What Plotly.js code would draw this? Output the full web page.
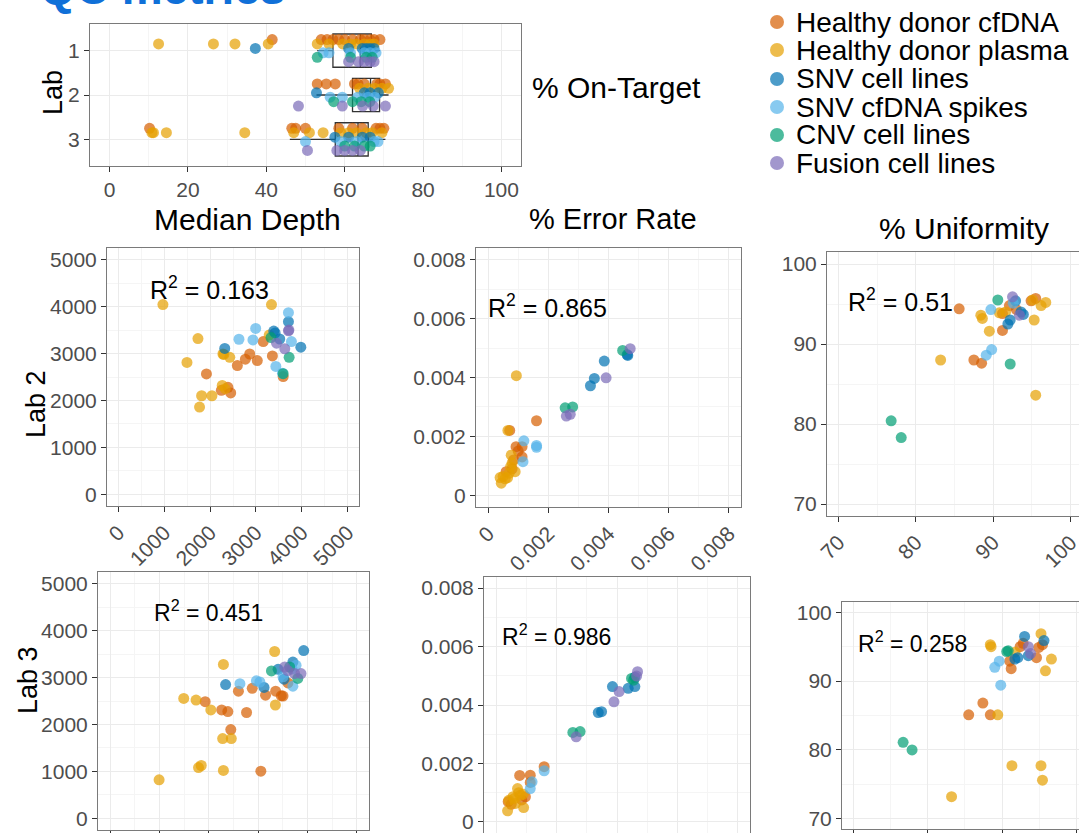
<!DOCTYPE html>
<html><head><meta charset="utf-8">
<script src="https://cdn.plot.ly/plotly-3.0.1.min.js"></script>
<style>html,body{margin:0;padding:0;background:#fff}#chart{width:1079px;height:833px}</style>
</head><body><div id="chart"></div>
<script>
// ---------- categories ----------
const groups = ['Healthy donor cfDNA','Healthy donor plasma','SNV cell lines','SNV cfDNA spikes','CNV cell lines','Fusion cell lines'];
const colors = ['#D55E00','#E69F00','#0072B2','#56B4E9','#009E73','#7B6BB8'];
const labs = [1, 2, 3];

// ---------- % On-Target (per group: [lab1, lab2, lab3]) ----------
const onTarget_cfDNA  = [[41.5,54,55.5,57,58.5,60,62,64,65,66.5,67.5,69],[53,55.3,57.6,62.5,63.4,65,68.2,69,70.4],[10.2,46.5,47.5,50,58.5,62,64.5,68,69,70]];
const onTarget_plasma = [[12.5,26.5,32,40.5,53,56,59.5,61.5,63,65,66.5,67.5],[63.8,66,67.7,69.5,71.2],[10.8,11.2,14.5,34.5,47,51,54.5,59,61,63,65.5,67,69.5]];
const onTarget_snv    = [[37.2,61,64.5,65.5,66.5,67.5],[52.8,65,66.5,68.6],[57.5,61,64.5,66.5]];
const onTarget_spikes = [[54.5,56,61.5,65,66.5,68],[56.3,59.4,63.3,66,67.7],[50,59,63,67.5,68.5]];
const onTarget_cnv    = [[53,61.5,65.5,67],[57.2,62,64.2,66.4],[60,62.5,65,66.5]];
const onTarget_fusion = [[61,63.5,65,66.5,67.5],[48.2,59.4,64.6,67.3,70.4],[50.5,58,60,62,64]];
const boxQ1 = [57, 62, 57.6];
const boxMedian = [64, 66.6, 63.4];
const boxQ3 = [66.8, 68.9, 66];
const boxLow = [53, 52.8, 46];
const boxHigh = [69, 71.2, 70.4];

// ---------- Median Depth ----------
const depthLab2X = [970,3340,1735,1495,2280,2430,2300,1815,2040,1770,2265,2330,3290,1920,2595,2770,2865,3030,3160,3360,3595,2245,2390,2450,3710,3390,3520,3980,2320,3420,3710,2995,2630,2935,3775,3435,3580,3725,3595,3330,3710,3450,3630,3720];
const depthLab2Y = [4045,4045,3320,2810,2990,2920,2980,2100,2100,1860,2320,2250,3395,2565,2745,2880,2990,2850,3255,2950,2510,2215,2280,2160,3680,3480,3310,3135,3110,3440,3870,3535,3305,3290,3255,2725,2580,2920,2570,3340,3485,3220,3100,3500];
const depthLab2G = [1,1,1,1,1,1,1,1,1,1,1,1,1,0,0,0,0,0,0,0,0,0,0,0,2,2,2,2,2,2,3,3,3,3,3,3,3,4,4,4,5,5,5,5];
const depthLab3X = [990,1790,2295,3055,1845,2280,2455,2445,1490,1740,1925,2040,2260,2385,2765,2295,2340,2630,2600,2880,2965,3035,3120,3150,3355,3470,3505,3335,3350,3270,3405,3505,3525,3540,3640,3705,3770,3740,3870,3805,3705,3925,3605,3690,3600];
const depthLab3Y = [820,1080,1020,1005,1125,1700,1700,1890,2555,2520,2485,2310,2310,2275,2255,3280,2850,2870,2710,2770,2930,2905,2790,2625,2710,2610,2605,3555,2415,3140,3175,3015,2965,3225,3225,3330,3260,3085,3085,2980,2815,3575,2885,3180,3150];
const depthLab3G = [1,1,1,0,1,1,1,0,1,1,0,1,0,0,0,1,2,3,0,0,3,3,2,0,0,0,0,1,1,4,2,3,2,5,4,2,3,5,5,4,3,2,0,3,5];

// ---------- % Error Rate ----------
const errLab2X = [0.00094,0.00066,0.00072,0.00161,0.00093,0.00113,0.00113,0.001,0.00085,0.0006,0.0008,0.00077,0.00075,0.0005,0.00044,0.00057,0.0007,0.0008,0.00065,0.0009,0.0004,0.00161,0.00161,0.00119,0.00116,0.00464,0.00462,0.00386,0.00353,0.0034,0.00447,0.00256,0.00281,0.00472,0.00392,0.0026,0.00273];
const errLab2Y = [0.00406,0.0022,0.0022,0.00253,0.00165,0.00165,0.0013,0.0015,0.0012,0.0008,0.0009,0.00136,0.00097,0.00064,0.00041,0.00056,0.00075,0.0011,0.0006,0.0008,0.0006,0.00169,0.00163,0.00185,0.00114,0.00475,0.00478,0.00456,0.00397,0.00372,0.00492,0.00297,0.003,0.00498,0.00399,0.00269,0.00275];
const errLab2G = [1,1,0,0,0,0,0,0,0,0,0,1,1,1,1,1,1,1,1,1,1,3,3,3,3,2,2,2,2,2,4,4,4,5,5,5,5];
const errLab3X = [0.00468,0.00465,0.00448,0.00455,0.00459,0.00459,0.00437,0.00385,0.00407,0.0039,0.00338,0.00349,0.00254,0.00278,0.00265,0.00159,0.00159,0.00078,0.00113,0.00119,0.00113,0.00113,0.00071,0.00056,0.00042,0.00038,0.00091,0.00064,0.0004,0.00097,0.0008,0.00075,0.0005,0.0009,0.0006,0.00085];
const errLab3Y = [0.00514,0.00499,0.00491,0.00485,0.00495,0.00463,0.00457,0.00463,0.00446,0.00411,0.00374,0.00377,0.00306,0.00309,0.00291,0.00175,0.00189,0.00159,0.0016,0.00137,0.00114,0.00135,0.00114,0.00086,0.00074,0.00038,0.00049,0.00063,0.00069,0.00086,0.00091,0.001,0.0006,0.00095,0.0008,0.00075];
const errLab3G = [5,5,4,4,2,2,2,2,5,5,2,2,4,4,5,3,0,0,0,3,3,0,1,1,1,1,1,1,0,0,1,1,0,1,1,0];

// ---------- % Uniformity ----------
const uniLab2X = [85.6,87.5,88.5,91.2,91.2,92.1,94.9,95.5,93,83.2,95.5,88.4,88.6,89.5,91.6,96.2,96.8,95.3,95.1,90.8,92.9,91.9,92.2,93.6,93.9,89.1,89.8,89.7,92.6,76.8,78.1,92.2,90.6,92.5,93.4];
const uniLab2Y = [94.4,88,87.6,93.8,91.7,94.8,95.4,95.7,94.3,88,83.6,93.6,93.2,91.6,94,94.8,95.2,93,95.5,93.9,95.4,92.5,93,94,93.7,88.6,89.3,94.3,95.1,80.4,78.3,87.5,95.5,95.9,93.6];
const uniLab2G = [0,0,0,0,0,0,0,0,0,1,1,1,1,1,1,1,1,1,1,1,2,2,2,2,2,3,3,3,3,4,4,4,4,5,5];
const uniLab3X = [76.7,77.9,83.2,91.3,95.2,95.4,85.5,88.4,89.4,87.4,89.8,89,89.6,88.4,88.5,90.6,90.8,91,91.2,91.7,92.1,91.7,92.4,93,93.5,93.5,94.6,95.2,94.9,95.4,95.6,96.6,95.8,92.8,93.8];
const uniLab3Y = [81.1,80,73.2,77.7,77.7,75.6,85.1,85.1,85.1,86.8,89.4,92,92.9,95.3,95,94.3,94.4,92.9,91.8,93.2,93.4,94.2,95,96.5,95,93.7,93.4,96.9,94.9,95.3,95.9,93.2,91.5,95.5,94];
const uniLab3G = [4,4,1,1,1,1,0,0,1,0,3,3,3,1,1,4,4,0,0,2,2,1,0,2,5,2,0,1,0,0,2,1,1,0,5];

// ---------- layout helpers (pixel -> paper) ----------
const W = 1079, H = 833;
const PX = p => p / W;
const PY = p => 1 - p / H;
const FONT = 'Liberation Sans, Arial, sans-serif';
const dodge = [-0.25, -0.15, -0.05, 0.05, 0.15, 0.25];
const OPAC = 0.7, MSIZE = 11;

const traces = [];
// box plots (top panel)
traces.push({
  type: 'box', orientation: 'h', xaxis: 'x', yaxis: 'y',
  y: labs, q1: boxQ1, median: boxMedian, q3: boxQ3, lowerfence: boxLow, upperfence: boxHigh,
  width: 0.75, whiskerwidth: 0, boxpoints: false,
  fillcolor: 'rgba(0,0,0,0)', line: {color: '#333333', width: 1.3},
  hoverinfo: 'skip', showlegend: false
});
const onTargetAll = [onTarget_cfDNA, onTarget_plasma, onTarget_snv, onTarget_spikes, onTarget_cnv, onTarget_fusion];
onTargetAll.forEach((byLab, g) => {
  const xs = [], ys = [];
  byLab.forEach((vals, li) => vals.forEach(v => { xs.push(v); ys.push(labs[li] + dodge[g]); }));
  traces.push({type: 'scatter', mode: 'markers', xaxis: 'x', yaxis: 'y', x: xs, y: ys,
    marker: {size: MSIZE, color: colors[g], opacity: OPAC, line: {width: 0}}, hoverinfo: 'skip', showlegend: false});
});

function addPanel(X, Y, G, xa, ya) {
  for (let g = 0; g < groups.length; g++) {
    const xs = [], ys = [];
    G.forEach((gg, i) => { if (gg === g) { xs.push(X[i]); ys.push(Y[i]); } });
    traces.push({type: 'scatter', mode: 'markers', xaxis: xa, yaxis: ya, x: xs, y: ys,
      marker: {size: MSIZE, color: colors[g], opacity: OPAC, line: {width: 0}}, hoverinfo: 'skip', showlegend: false});
  }
}
addPanel(depthLab2X, depthLab2Y, depthLab2G, 'x2', 'y2');
addPanel(errLab2X, errLab2Y, errLab2G, 'x3', 'y3');
addPanel(uniLab2X, uniLab2Y, uniLab2G, 'x4', 'y4');
addPanel(depthLab3X, depthLab3Y, depthLab3G, 'x5', 'y5');
addPanel(errLab3X, errLab3Y, errLab3G, 'x6', 'y6');
addPanel(uniLab3X, uniLab3Y, uniLab3G, 'x7', 'y7');

function ax(domain, range, dtick, minor, extra) {
  return Object.assign({
    domain: domain, range: range, dtick: dtick, tick0: 0,
    showline: true, linecolor: '#7a7a7a', linewidth: 1, mirror: true,
    ticks: 'outside', ticklen: 5, tickwidth: 1, tickcolor: '#333333',
    showgrid: true, gridcolor: '#ebebeb', gridwidth: 1, zeroline: false,
    tickfont: {family: FONT, size: 21, color: '#4d4d4d'},
    minor: minor ? {dtick: minor, showgrid: true, gridcolor: '#f5f5f5', gridwidth: 1, ticks: ''} : undefined,
    fixedrange: true
  }, extra || {});
}
const ALLOW = {ticklabeloverflow: 'allow'};

const layout = {
  width: W, height: H, margin: {l: 0, r: 0, t: 0, b: 0},
  paper_bgcolor: '#ffffff', plot_bgcolor: '#ffffff', showlegend: false,
  font: {family: FONT, color: '#000'},
  // top panel
  xaxis:  ax([PX(90), PX(521)], [-5, 105], 20, 10, {anchor: 'y'}),
  yaxis:  ax([PY(166), PY(24)], [3.6, 0.4], 1, null, Object.assign({anchor: 'x', tickvals: labs, ticktext: ['1','2','3']}, ALLOW)),
  // row Lab 2
  xaxis2: ax([PX(107), PX(359)], [-250, 5250], 1000, 500, {anchor: 'y2', tickangle: -45}),
  yaxis2: ax([PY(506), PY(248)], [-250, 5250], 1000, 500, Object.assign({anchor: 'x2'}, ALLOW)),
  xaxis3: ax([PX(476), PX(741)], [-0.0004, 0.0084], 0.002, 0.001, {anchor: 'y3', tickangle: -45}),
  yaxis3: ax([PY(507), PY(248)], [-0.0004, 0.0084], 0.002, 0.001, Object.assign({anchor: 'x3'}, ALLOW)),
  xaxis4: ax([PX(827), 1], [68.5, 101.1], 10, 5, Object.assign({anchor: 'y4', tickangle: -45}, ALLOW)),
  yaxis4: ax([PY(516), PY(252)], [68.5, 101.5], 10, 5, Object.assign({anchor: 'x4', mirror: false}, ALLOW)),
  // row Lab 3
  xaxis5: ax([PX(98), PX(369)], [-250, 5250], 1000, 500, {anchor: 'y5', tickangle: -45}),
  yaxis5: ax([PY(830), PY(572)], [-250, 5250], 1000, 500, Object.assign({anchor: 'x5'}, ALLOW)),
  xaxis6: ax([PX(484), PX(750)], [-0.0004, 0.0084], 0.002, 0.001, {anchor: 'y6', tickangle: -45}),
  yaxis6: ax([0, PY(577)], [-0.00038, 0.00838], 0.002, 0.001, Object.assign({anchor: 'x6'}, ALLOW)),
  xaxis7: ax([PX(842), 1], [68.5, 100.3], 10, 5, {anchor: 'y7', tickangle: -45}),
  yaxis7: ax([PY(829), PY(602)], [68.5, 101.5], 10, 5, Object.assign({anchor: 'x7', mirror: false}, ALLOW)),
  annotations: [],
  shapes: []
};

function note(text, xpx, ypx, size, opts) {
  layout.annotations.push(Object.assign({
    text: text, xref: 'paper', yref: 'paper', x: PX(xpx), y: PY(ypx),
    xanchor: 'center', yanchor: 'middle', showarrow: false,
    font: {family: FONT, size: size, color: '#000'}
  }, opts || {}));
}
// main title (cropped at top)
note('<b>QC metrics</b>', 38, -12, 46, {xanchor: 'left', font: {family: FONT, size: 46, color: '#1070d8'}});
// panel titles
note('% On-Target', 530, 88, 30, {xanchor: 'left'});
note('Median Depth', 247, 219, 30);
note('% Error Rate', 613, 219, 29);
note('% Uniformity', 964, 228, 30);
// row titles
note('Lab', 53, 93, 27, {textangle: -90});
note('Lab 2', 36, 404, 27, {textangle: -90});
note('Lab 3', 28, 680, 27, {textangle: -90});
// R^2 labels
note('R<sup>2</sup> = 0.163', 209, 288, 25);
note('R<sup>2</sup> = 0.865', 547, 306, 25);
note('R<sup>2</sup> = 0.51', 900, 300, 25);
note('R<sup>2</sup> = 0.451', 208, 611, 23);
note('R<sup>2</sup> = 0.986', 556, 635, 23);
note('R<sup>2</sup> = 0.258', 912, 642, 23);

// legend (manual)
const legendRows = [22, 50, 79, 107, 135, 163];
groups.forEach((name, g) => {
  layout.shapes.push({type: 'circle', xref: 'paper', yref: 'paper',
    xsizemode: 'pixel', ysizemode: 'pixel', xanchor: PX(777), yanchor: PY(legendRows[g]),
    x0: -7, x1: 7, y0: -7, y1: 7, fillcolor: colors[g], opacity: OPAC, line: {width: 0}});
  note(name, 795, legendRows[g], 28, {xanchor: 'left', borderpad: 0});
});

Plotly.newPlot('chart', traces, layout, {staticPlot: true, displayModeBar: false});
</script></body></html>
